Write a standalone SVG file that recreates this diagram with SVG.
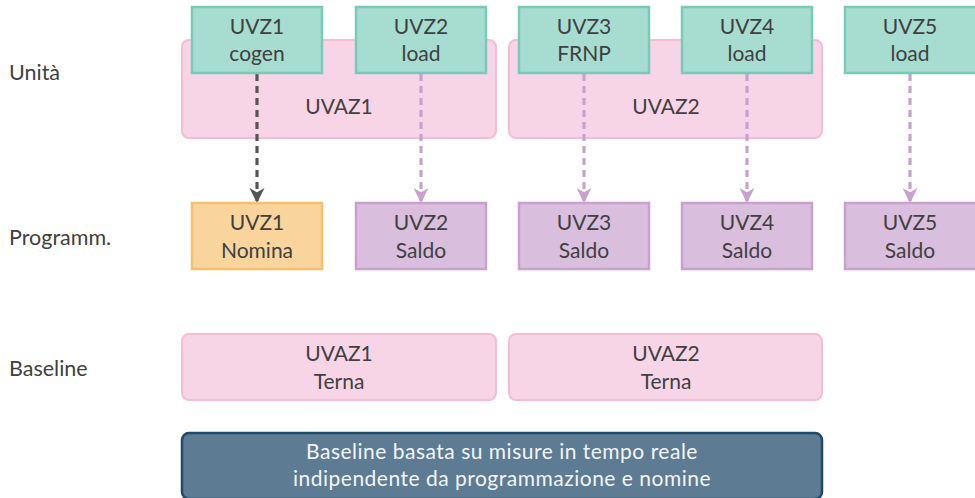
<svg xmlns="http://www.w3.org/2000/svg" width="975" height="498" viewBox="0 0 975 498">
  <defs>
    <style>
      text { font-family: Lato, "Open Sans", "Liberation Sans", sans-serif; fill: #404040; font-size: 21px; text-anchor: middle; }
      .row { text-anchor: start; font-size: 21.5px; }
      .zone { fill: #f8d5e6; stroke: #f4bcd5; stroke-width: 2; }
      .unit { fill: #a7ddd1; stroke: #79cab7; stroke-width: 2.5; }
      .nom { fill: #f9d59d; stroke: #f5c06c; stroke-width: 2.5; }
      .sal { fill: #d9bedd; stroke: #c9a1cf; stroke-width: 2.5; }
      .note { fill: #5d7b92; stroke: #1f4a69; stroke-width: 2.5; }
      .note-text { fill: #f2f5f8; font-size: 21px; letter-spacing: 0.5px; }
      .link { fill: none; stroke-width: 3.2; stroke-dasharray: 7 5; }
      .link-grey { stroke: #555555; }
      .link-purple { stroke: #c9a1cf; }
    </style>
    <marker id="ah-grey" viewBox="0 0 14 14" refX="13" refY="7" markerWidth="15" markerHeight="15" markerUnits="userSpaceOnUse" orient="auto">
      <path d="M0,0 L14,7 L0,14 L4,7 Z" fill="#555555"/>
    </marker>
    <marker id="ah-purple" viewBox="0 0 14 14" refX="13" refY="7" markerWidth="15" markerHeight="15" markerUnits="userSpaceOnUse" orient="auto">
      <path d="M0,0 L14,7 L0,14 L4,7 Z" fill="#c9a1cf"/>
    </marker>
  </defs>

  <!-- row labels -->
  <text class="row" x="9" y="80">Unità</text>
  <text class="row" x="9" y="245">Programm.</text>
  <text class="row" x="9" y="376">Baseline</text>

  <!-- aggregated zones -->
  <g id="uvaz1">
    <rect class="zone" x="182" y="40" width="314" height="98" rx="7"/>
    <text x="339" y="114">UVAZ1</text>
  </g>
  <g id="uvaz2">
    <rect class="zone" x="509" y="40" width="313" height="98" rx="7"/>
    <text x="666" y="114">UVAZ2</text>
  </g>

  <!-- connectors -->
  <g id="connectors">
    <line class="link link-grey" x1="257" y1="74" x2="257" y2="202" marker-end="url(#ah-grey)"/>
    <line class="link link-purple" x1="421" y1="74" x2="421" y2="202" marker-end="url(#ah-purple)"/>
    <line class="link link-purple" x1="584" y1="74" x2="584" y2="202" marker-end="url(#ah-purple)"/>
    <line class="link link-purple" x1="747" y1="74" x2="747" y2="202" marker-end="url(#ah-purple)"/>
    <line class="link link-purple" x1="910" y1="74" x2="910" y2="202" marker-end="url(#ah-purple)"/>
  </g>

  <!-- units -->
  <g id="uvz1">
    <rect class="unit" x="192" y="7" width="130" height="66"/>
    <text x="257" y="34">UVZ1</text>
    <text x="257" y="61">cogen</text>
  </g>
  <g id="uvz2">
    <rect class="unit" x="356" y="7" width="130" height="66"/>
    <text x="421" y="34">UVZ2</text>
    <text x="421" y="61">load</text>
  </g>
  <g id="uvz3">
    <rect class="unit" x="519" y="7" width="130" height="66"/>
    <text x="584" y="34">UVZ3</text>
    <text x="584" y="61">FRNP</text>
  </g>
  <g id="uvz4">
    <rect class="unit" x="682" y="7" width="130" height="66"/>
    <text x="747" y="34">UVZ4</text>
    <text x="747" y="61">load</text>
  </g>
  <g id="uvz5">
    <rect class="unit" x="845" y="7" width="132" height="66"/>
    <text x="910" y="34">UVZ5</text>
    <text x="910" y="61">load</text>
  </g>

  <!-- schedules -->
  <g id="prog1">
    <rect class="nom" x="192" y="203" width="130" height="66"/>
    <text x="257" y="230">UVZ1</text>
    <text x="257" y="258">Nomina</text>
  </g>
  <g id="prog2">
    <rect class="sal" x="356" y="203" width="130" height="66"/>
    <text x="421" y="230">UVZ2</text>
    <text x="421" y="258">Saldo</text>
  </g>
  <g id="prog3">
    <rect class="sal" x="519" y="203" width="130" height="66"/>
    <text x="584" y="230">UVZ3</text>
    <text x="584" y="258">Saldo</text>
  </g>
  <g id="prog4">
    <rect class="sal" x="682" y="203" width="130" height="66"/>
    <text x="747" y="230">UVZ4</text>
    <text x="747" y="258">Saldo</text>
  </g>
  <g id="prog5">
    <rect class="sal" x="845" y="203" width="132" height="66"/>
    <text x="910" y="230">UVZ5</text>
    <text x="910" y="258">Saldo</text>
  </g>

  <!-- baselines -->
  <g id="base1">
    <rect class="zone" x="182" y="334" width="314" height="66" rx="7"/>
    <text x="339" y="361">UVAZ1</text>
    <text x="339" y="389">Terna</text>
  </g>
  <g id="base2">
    <rect class="zone" x="509" y="334" width="313" height="66" rx="7"/>
    <text x="666" y="361">UVAZ2</text>
    <text x="666" y="389">Terna</text>
  </g>

  <!-- note -->
  <g id="note">
    <rect class="note" x="182" y="433" width="640" height="66" rx="7"/>
    <text class="note-text" x="502" y="459">Baseline basata su misure in tempo reale</text>
    <text class="note-text" x="502" y="486">indipendente da programmazione e nomine</text>
  </g>
</svg>
